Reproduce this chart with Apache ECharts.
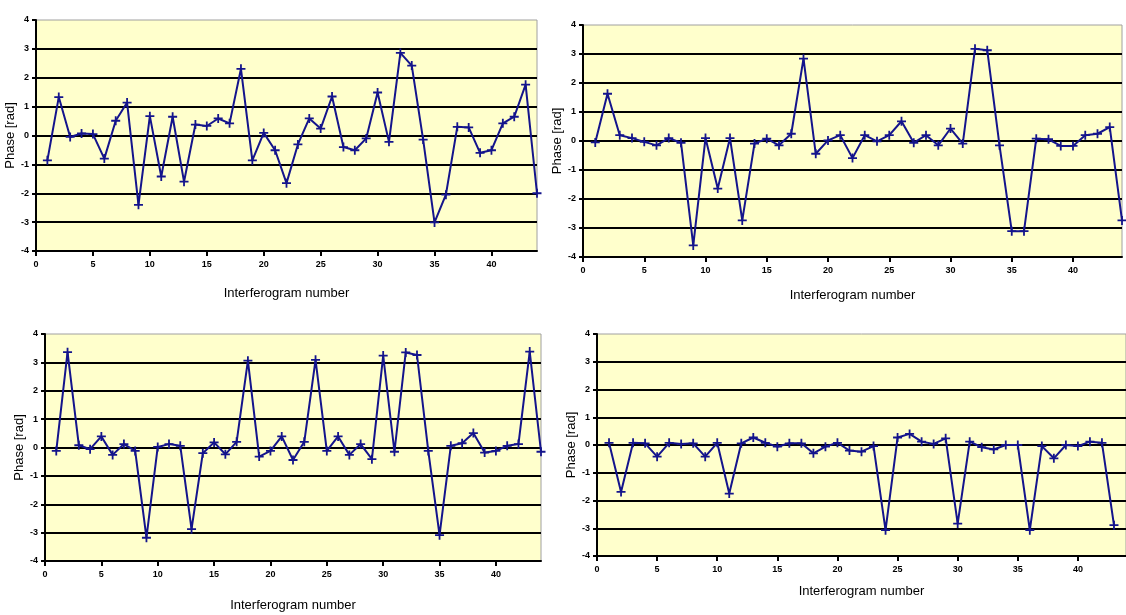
<!DOCTYPE html>
<html>
<head>
<meta charset="utf-8">
<style>
  html, body { margin: 0; padding: 0; background: #ffffff; }
  #chart { width: 1126px; height: 615px; }
</style>
<script src="https://cdn.jsdelivr.net/npm/echarts@6/dist/echarts.min.js"></script>
</head>
<body>
<div id="chart"></div>
<script>
// Interferogram numbers along the horizontal axis
const interferogramNo = [1, 2, 3, 4, 5, 6, 7, 8, 9, 10, 11, 12, 13, 14, 15, 16, 17, 18, 19, 20, 21, 22,
  23, 24, 25, 26, 27, 28, 29, 30, 31, 32, 33, 34, 35, 36, 37, 38, 39, 40, 41, 42, 43, 44];

// Phase values [rad] for each of the four panels
const phaseTopLeft = [-0.86, 1.33, -0.05, 0.07, 0.05, -0.8, 0.51, 1.14, -2.4, 0.67, -1.42, 0.65,
  -1.6, 0.38, 0.33, 0.59, 0.42, 2.31, -0.86, 0.09, -0.51, -1.65, -0.31, 0.59, 0.24, 1.35, -0.4,
  -0.51, -0.1, 1.49, -0.22, 2.86, 2.42, -0.14, -3.01, -2.05, 0.3, 0.28, -0.6, -0.51, 0.42, 0.65,
  1.76, -2.0];

const phaseTopRight = [-0.05, 1.63, 0.2, 0.1, -0.03, -0.15, 0.1, -0.06, -3.6, 0.1, -1.64, 0.1,
  -2.74, -0.09, 0.08, -0.15, 0.25, 2.84, -0.44, 0.02, 0.2, -0.59, 0.2, -0.01, 0.2, 0.68, -0.06,
  0.2, -0.15, 0.43, -0.09, 3.18, 3.13, -0.15, -3.11, -3.11, 0.08, 0.06, -0.17, -0.17, 0.2, 0.25,
  0.48, -2.74];

const phaseBottomLeft = [-0.12, 3.36, 0.08, -0.06, 0.39, -0.26, 0.12, -0.12, -3.18, 0.02, 0.12,
  0.06, -2.88, -0.2, 0.18, -0.24, 0.2, 3.06, -0.32, -0.12, 0.39, -0.44, 0.2, 3.09, -0.12, 0.39,
  -0.26, 0.12, -0.41, 3.24, -0.15, 3.35, 3.26, -0.12, -3.09, 0.06, 0.15, 0.51, -0.18, -0.12, 0.06,
  0.12, 3.38, -0.15];

const phaseBottomRight = [0.08, -1.69, 0.08, 0.06, -0.42, 0.08, 0.04, 0.06, -0.42, 0.08, -1.75,
  0.06, 0.27, 0.08, -0.06, 0.06, 0.06, -0.3, -0.06, 0.08, -0.2, -0.24, -0.04, -3.07, 0.27, 0.4,
  0.12, 0.04, 0.24, -2.83, 0.12, -0.08, -0.16, 0, 0, -3.07, -0.04, -0.48, 0, -0.04, 0.12, 0.08,
  -2.89];

const xTitle = 'Interferogram number';
const yTitle = 'Phase [rad]';

// Plot-area boxes (pixels) and title gaps for each panel
const panels = [
  { values: phaseTopLeft,     left: 36,  top: 20,  width: 501, height: 231, xGap: 36, yGap: 16 },
  { values: phaseTopRight,    left: 583, top: 25,  width: 539, height: 232, xGap: 32, yGap: 12 },
  { values: phaseBottomLeft,  left: 45,  top: 334, width: 496, height: 227, xGap: 38, yGap: 19 },
  { values: phaseBottomRight, left: 597, top: 334, width: 537, height: 222, xGap: 29, yGap: 16 }
];

const lineColor = '#14148c';
const plusMarker = 'path://M4,0H6V4H10V6H6V10H4V6H0V4H4Z';
const labelFont = { fontFamily: 'Liberation Sans', fontSize: 9, fontWeight: 'bold', color: '#000' };
const titleFont = { fontFamily: 'Liberation Sans', fontSize: 13, color: '#000' };

const grid = [], xAxis = [], yAxis = [], series = [];
panels.forEach(function (p, i) {
  grid.push({
    left: p.left, top: p.top, width: p.width, height: p.height,
    show: true, backgroundColor: '#ffffcc', borderColor: '#a0a0a0', borderWidth: 1,
    containLabel: false
  });
  xAxis.push({
    type: 'value', gridIndex: i, min: 0, max: 44, interval: 5,
    name: xTitle, nameLocation: 'middle', nameGap: p.xGap,
    nameTextStyle: titleFont,
    axisLine: { show: true, onZero: false, lineStyle: { color: '#000', width: 2 } },
    axisTick: { show: true, length: 5, lineStyle: { color: '#000', width: 2 } },
    axisLabel: Object.assign({ margin: 9, showMaxLabel: false,
      formatter: function (v) { return v % 5 === 0 ? String(v) : ''; } }, labelFont),
    splitLine: { show: false }
  });
  yAxis.push({
    type: 'value', gridIndex: i, min: -4, max: 4, interval: 1,
    name: yTitle, nameLocation: 'middle', nameGap: p.yGap, nameRotate: 90,
    nameTextStyle: titleFont,
    axisLine: { show: true, onZero: false, lineStyle: { color: '#000', width: 2 } },
    axisTick: { show: true, length: 4, lineStyle: { color: '#000', width: 2 } },
    axisLabel: Object.assign({ margin: 7 }, labelFont),
    splitLine: { show: true, showMinLine: false, showMaxLine: false,
      lineStyle: { color: '#000', width: 2 } }
  });
  series.push({
    type: 'line', xAxisIndex: i, yAxisIndex: i,
    data: p.values.map(function (v, k) { return [interferogramNo[k], v]; }),
    symbol: plusMarker, symbolSize: 9, showSymbol: true,
    lineStyle: { color: lineColor, width: 2 },
    itemStyle: { color: lineColor },
    animation: false, silent: true
  });
});

const chart = echarts.init(document.getElementById('chart'), null, { renderer: 'canvas' });
chart.setOption({ animation: false, grid: grid, xAxis: xAxis, yAxis: yAxis, series: series });
</script>
</body>
</html>
